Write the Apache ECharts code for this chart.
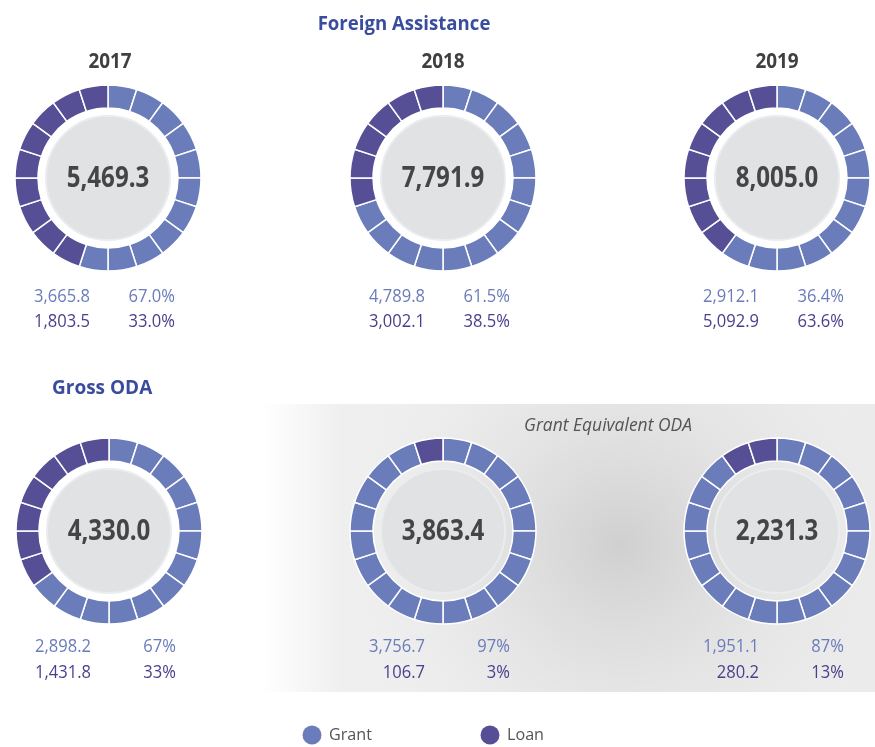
<!DOCTYPE html>
<html><head><meta charset="utf-8">
<script src="https://cdn.jsdelivr.net/npm/echarts@6/dist/echarts.min.js"></script>
<style>html,body{margin:0;padding:0;background:#fff}#c{width:875px;height:747px}</style>
</head><body><div id="c"></div>
<script>
// ---- data ----
const yearLabels = ['2017', '2018', '2019'];
const totals   = [5469.3, 7791.9, 8005.0, 4330.0, 3863.4, 2231.3];
const grants   = [3665.8, 4789.8, 2912.1, 2898.2, 3756.7, 1951.1];
const loans    = [1803.5, 3002.1, 5092.9, 1431.8, 106.7, 280.2];
const grantPct = ['67.0%', '61.5%', '36.4%', '67%', '97%', '87%'];
const loanPct  = ['33.0%', '38.5%', '63.6%', '33%', '3%', '13%'];
const segmentsPerRing = 20;
const loanSegments = [9, 6, 8, 7, 1, 2];   // dark segments as drawn in the picture
const legendNames = ['Grant', 'Loan'];

// ---- layout / style ----
const GRANT = '#6a7cba', LOAN = '#574f96', LOANTXT = '#4a3f8c';
const centers = [[108,178],[443,178],[777,178],[109,531],[443,531],[777,531]];
const rowY = [[297,322],[297,322],[297,322],[647,673],[647,673],[647,673]];
const FONT = '"Open Sans","Noto Sans",sans-serif';
const fmt = v => v.toLocaleString('en-US', {minimumFractionDigits:1, maximumFractionDigits:1});

const chart = echarts.init(document.getElementById('c'), null, {renderer:'canvas'});
const series = [];
const graphic = [];

function txt(x, y, text, font, fill, align, sx) {
  graphic.push({type:'text', x:x, y:y, scaleX:sx || 1, silent:true, z:10,
    style:{text:text, align:align || 'left', verticalAlign:'middle', font:font, fill:fill}});
}

// background panel
graphic.push({type:'rect', z:-10, silent:true, shape:{x:262,y:404,width:613,height:288},
  style:{fill:new echarts.graphic.LinearGradient(0,0,1,0,[
    {offset:0,color:'#ffffff'},{offset:0.13,color:'#efefef'},{offset:1,color:'#ebebeb'}])}});
graphic.push({type:'rect', z:-9, silent:true, shape:{x:262,y:404,width:613,height:288},
  style:{fill:new echarts.graphic.RadialGradient(620,545,260,[
    {offset:0,color:'rgba(200,200,200,0.8)'},{offset:1,color:'rgba(225,225,225,0)'}],true)}});

centers.forEach((c, i) => {
  const ring = [];
  for (let k = 0; k < segmentsPerRing; k++) {
    const isLoan = k >= segmentsPerRing - loanSegments[i];
    ring.push({value:1, name: isLoan ? 'Loan' : 'Grant', itemStyle:{color: isLoan ? LOAN : GRANT}});
  }
  series.push({type:'pie', center:c, radius:[70,93], startAngle:90, clockwise:true,
    silent:true, animation:false, label:{show:false}, labelLine:{show:false},
    itemStyle:{borderColor:'#ffffff', borderWidth:1.5}, data:ring});
  series.push({type:'pie', center:c, radius:[0,62], silent:true, animation:false,
    itemStyle:{color:'#e1e2e4', borderColor:'#ebeced', borderWidth:2},
    label:{show:false}, labelLine:{show:false}, data:[{value:1}]});
  txt(c[0], c[1] + 1, fmt(totals[i]), 'bold 28px ' + FONT, '#454545', 'center', 0.86);
  const nx = c[0] - 18, px = c[0] + 67;
  txt(nx, rowY[i][0], fmt(grants[i]), '18px ' + FONT, GRANT, 'right', 0.92);
  txt(px, rowY[i][0], grantPct[i], '18px ' + FONT, GRANT, 'right', 0.92);
  txt(nx, rowY[i][1], fmt(loans[i]), '18px ' + FONT, LOANTXT, 'right', 0.92);
  txt(px, rowY[i][1], loanPct[i], '18px ' + FONT, LOANTXT, 'right', 0.92);
});

yearLabels.forEach((t, i) => txt([110,443,777][i], 62, t, 'bold 21px ' + FONT, '#404040', 'center', 0.9));
txt(404, 24, 'Foreign Assistance', 'bold 20px ' + FONT, '#3a4c9e', 'center', 0.93);
txt(52, 388, 'Gross ODA', 'bold 20px ' + FONT, '#3a4c9e', 'left', 0.95);
txt(608, 426, 'Grant Equivalent ODA', 'italic 18px ' + FONT, '#555555', 'center', 0.97);
// legend
[[312, GRANT], [490, LOAN]].forEach((l, i) => {
  graphic.push({type:'circle', silent:true, shape:{cx:l[0], cy:735, r:9.5}, style:{fill:l[1]}});
  txt(l[0] + 17, 735, legendNames[i], '17px ' + FONT, '#555555', 'left', 0.95);
});

chart.setOption({animation:false, series:series, graphic:graphic});
</script>
</body></html>
